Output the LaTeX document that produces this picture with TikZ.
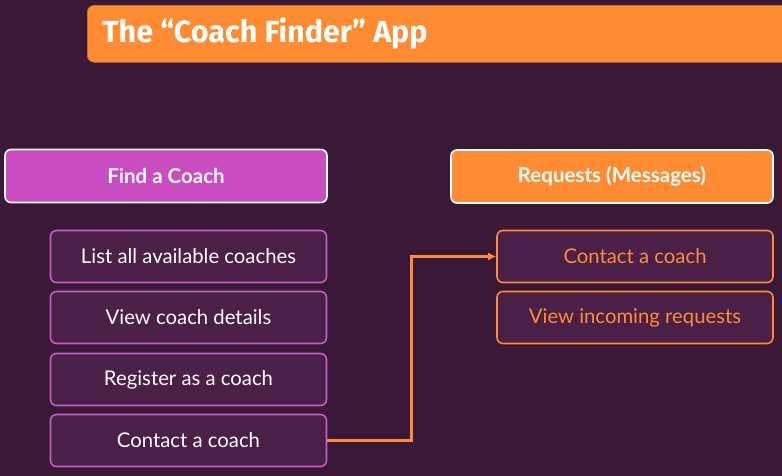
\documentclass[tikz,border=0pt]{standalone}
\usepackage{fontspec}
\setmainfont{Lato}
\newfontfamily\titlefont{Fira Sans}
\usetikzlibrary{arrows.meta}
\definecolor{bg}{HTML}{3A1936}
\definecolor{boxfill}{HTML}{4A1F48}
\definecolor{accent}{HTML}{FF8C32}
\definecolor{magenta}{HTML}{C94DC1}
\definecolor{magline}{HTML}{C95BC6}
\begin{document}
\begin{tikzpicture}[x=1pt,y=-1pt,
  header/.style={draw=white, line width=1.6pt, rounded corners=6pt,
    minimum width=322pt, minimum height=53pt, inner sep=0pt,
    text=white, font=\fontsize{20.5}{24}\selectfont\bfseries},
  item/.style={draw=#1, fill=boxfill, line width=1.6pt, rounded corners=6pt,
    minimum width=276pt, minimum height=52pt, inner sep=0pt,
    font=\fontsize{20.3}{24}\selectfont},
  conn/.style={draw=accent, line width=2.4pt, -{Latex[length=8pt,width=8pt]}}]
  \useasboundingbox (0,0) rectangle (782,476);
  \fill[bg] (0,0) rectangle (782,476);

  % title banner
  \node[fill=accent, draw=accent!80!black, line width=0.6pt, rounded corners=7pt,
    anchor=north west, minimum width=720pt, minimum height=57pt, inner sep=0pt]
    (banner) at (87,5) {};
  \node[anchor=west, text=white, inner sep=0pt,
    font=\titlefont\fontsize{30.5}{34}\selectfont\bfseries]
    (title) at (102,34) {The “Coach Finder” App};

  % column headers
  \node[header, fill=magenta] (find) at (166,176) {Find a Coach};
  \node[header, fill=accent] (req) at (612,176.5) {Requests (Messages)};

  % left column
  \node[item=magline, text=white] (c1) at (188.5,256.5) {List all available coaches};
  \node[item=magline, text=white] (c2) at (188.5,317.5) {View coach details};
  \node[item=magline, text=white] (c3) at (188.5,379.5) {Register as a coach};
  \node[item=magline, text=white] (c4) at (188.5,440.5) {Contact a coach};

  % right column
  \node[item=accent, text=accent] (r1) at (635,256.5) {Contact a coach};
  \node[item=accent, text=accent] (r2) at (635,317.5) {View incoming requests};

  % link
  \draw[conn] (c4.east) -- ++(84,0) |- (r1.west);
\end{tikzpicture}
\end{document}
